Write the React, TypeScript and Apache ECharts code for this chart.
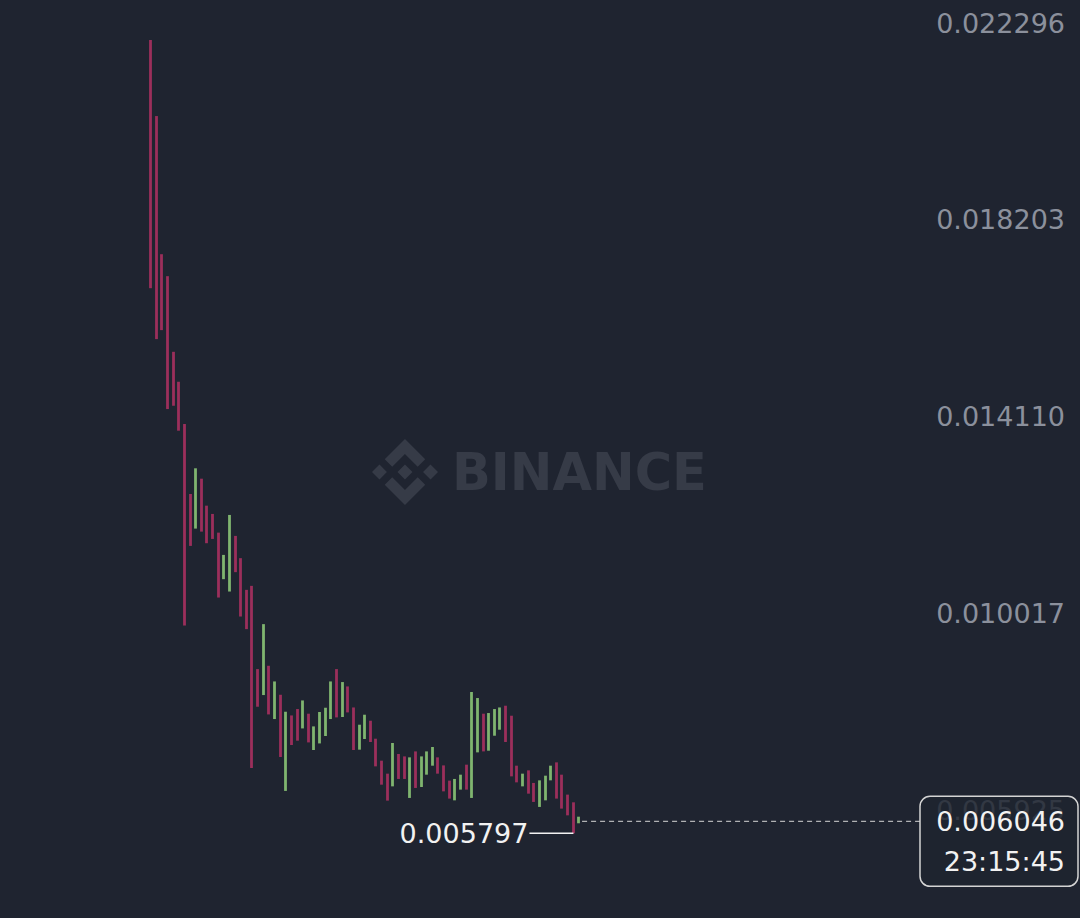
import React, { useEffect, useRef } from 'react';
import * as echarts from 'echarts';

// ---- data ----
const opens = [
  0.022296, 0.020714, 0.017841, 0.017384, 0.015811, 0.015188, 0.014309, 0.012854, 0.012134, 0.013172,
  0.012611, 0.012439, 0.012050, 0.011082, 0.010825, 0.011982, 0.011519, 0.010860, 0.010943, 0.009212,
  0.008672, 0.009281, 0.008173, 0.008678, 0.006678, 0.008248, 0.008381, 0.007978, 0.008284, 0.007529,
  0.007666, 0.007820, 0.008173, 0.009212, 0.008215, 0.008851, 0.008414, 0.007536, 0.007758, 0.008138,
  0.007764, 0.007307, 0.007037, 0.006773, 0.007446, 0.007396, 0.006532, 0.007500, 0.006760, 0.007016,
  0.007203, 0.007376, 0.007209, 0.006892, 0.006482, 0.006705, 0.007224, 0.006532, 0.007480, 0.008284,
  0.007515, 0.007826, 0.007951, 0.008450, 0.008242, 0.007203, 0.006773, 0.007106, 0.006844, 0.006345,
  0.006482, 0.006898, 0.007272, 0.007016, 0.006601, 0.006441, 0.006010,
];
const closes = [
  0.017134, 0.016075, 0.016262, 0.014620, 0.014689, 0.014170, 0.010118, 0.011774, 0.013388, 0.012071,
  0.011830, 0.011919, 0.010700, 0.011587, 0.012418, 0.011228, 0.010305, 0.010043, 0.007155, 0.008429,
  0.010147, 0.008269, 0.008955, 0.007384, 0.008325, 0.007633, 0.007723, 0.008560, 0.007687, 0.008020,
  0.008319, 0.008408, 0.008955, 0.008207, 0.008942, 0.008311, 0.007529, 0.008055, 0.008263, 0.007696,
  0.007189, 0.006808, 0.006476, 0.007675, 0.006927, 0.006927, 0.007376, 0.006740, 0.007396, 0.007500,
  0.007592, 0.007037, 0.006669, 0.006518, 0.006927, 0.007016, 0.006705, 0.008735, 0.008610, 0.007500,
  0.008298, 0.008381, 0.008414, 0.007696, 0.006981, 0.006856, 0.007037, 0.006621, 0.006449, 0.006898,
  0.006995, 0.007203, 0.006518, 0.006310, 0.006170, 0.005797, 0.006046,
];
const lows = [
  0.017134, 0.016075, 0.016262, 0.014620, 0.014689, 0.014170, 0.010118, 0.011774, 0.012134, 0.012071,
  0.011830, 0.011919, 0.010700, 0.011082, 0.010825, 0.011228, 0.010305, 0.010043, 0.007155, 0.008429,
  0.008672, 0.008269, 0.008173, 0.007384, 0.006678, 0.007633, 0.007723, 0.007978, 0.007687, 0.007529,
  0.007666, 0.007820, 0.008173, 0.008207, 0.008215, 0.008311, 0.007529, 0.007536, 0.007758, 0.007696,
  0.007189, 0.006808, 0.006476, 0.006773, 0.006927, 0.006927, 0.006532, 0.006740, 0.006760, 0.007016,
  0.007203, 0.007037, 0.006669, 0.006518, 0.006482, 0.006705, 0.006705, 0.006532, 0.007480, 0.007500,
  0.007515, 0.007826, 0.007951, 0.007696, 0.006981, 0.006856, 0.006773, 0.006621, 0.006449, 0.006345,
  0.006482, 0.006898, 0.006518, 0.006310, 0.006170, 0.005797, 0.006005,
];
const highs = [
  0.022296, 0.020714, 0.017841, 0.017384, 0.015811, 0.015188, 0.014309, 0.012854, 0.013388, 0.013172,
  0.012611, 0.012439, 0.012050, 0.011587, 0.012418, 0.011982, 0.011519, 0.010860, 0.010943, 0.009212,
  0.010147, 0.009281, 0.008955, 0.008678, 0.008325, 0.008248, 0.008381, 0.008560, 0.008284, 0.008020,
  0.008319, 0.008408, 0.008955, 0.009212, 0.008942, 0.008851, 0.008414, 0.008055, 0.008263, 0.008138,
  0.007764, 0.007307, 0.007037, 0.007675, 0.007446, 0.007396, 0.007376, 0.007500, 0.007396, 0.007500,
  0.007592, 0.007376, 0.007209, 0.006892, 0.006927, 0.007016, 0.007224, 0.008735, 0.008610, 0.008284,
  0.008298, 0.008381, 0.008414, 0.008450, 0.008242, 0.007203, 0.007037, 0.007106, 0.006844, 0.006898,
  0.006995, 0.007203, 0.007272, 0.007016, 0.006601, 0.006441, 0.006142,
];
const slotCount = 137; // visible time slots (incl. empty future space)
const priceTicks = [0.005925, 0.010017, 0.014110, 0.018203, 0.022296];
const lastPrice = 0.006046;
const countdown = '23:15:45';
const lowPrice = 0.005797;
const lowIndex = 75;

const BG = '#1f2430';
const UP = '#7fb56f';
const DOWN = '#9b2f5b';
const LABEL = '#8b909c';
const FONT = "'DejaVu Sans', sans-serif";

const LOGO_D =
  'M16.624 13.9202l2.7175 2.7154-7.353 7.353-7.353-7.352 2.7175-2.7164 4.6355 4.6595 4.6356-4.6595zm4.6366-4.6366L24 12l-2.7154 2.7164L18.5682 12l2.6924-2.7164zm-9.272.001l2.7163 2.6914-2.7164 2.7174v-.001L9.2721 12l2.7164-2.7154zm-9.2722-.001L5.4088 12l-2.6914 2.6924L0 12l2.7164-2.7164zM11.9885.0115l7.353 7.329-2.7174 2.7154-4.6356-4.6356-4.6355 4.6595-2.7174-2.7154 7.353-7.353z';

let registered = false;
function ensureLogo() {
  if (registered) return;
  echarts.graphic.registerShape('binanceLogo', echarts.graphic.extendPath(LOGO_D, {}) as any);
  registered = true;
}

export default function App() {
  const ref = useRef<HTMLDivElement>(null);
  useEffect(() => {
    if (!ref.current) return;
    ensureLogo();
    const chart = echarts.init(ref.current, null, { renderer: 'svg' });
    const slots = Array.from({ length: slotCount }, (_, i) => String(i));
    const candles = opens.map((o, i) => [o, closes[i], lows[i], highs[i]]);
    const gridRight = 160;
    chart.setOption({
      animation: false,
      backgroundColor: BG,
      grid: { left: 148, right: gridRight, top: 0, bottom: 0 },
      xAxis: {
        type: 'category',
        data: slots,
        boundaryGap: true,
        show: false,
      },
      yAxis: {
        type: 'value',
        position: 'right',
        min: 0.004035,
        max: 0.023128,
        axisLine: { show: false },
        axisTick: { show: false },
        splitLine: { show: false },
        axisLabel: {
          customValues: priceTicks,
          formatter: (v: number) => v.toFixed(6),
          color: LABEL,
          fontSize: 27,
          fontFamily: FONT,
          align: 'right',
          margin: 145,
          verticalAlign: 'bottom',
          lineHeight: 34,
        },
      },
      series: [
        {
          type: 'candlestick',
          data: candles,
          barWidth: 0.5,
          itemStyle: {
            color: UP,
            color0: DOWN,
            borderColor: UP,
            borderColor0: DOWN,
            borderWidth: 2.8,
          },
          z: 5,
        },
      ],
    });

    const W = 1080;
    const [px, py] = chart.convertToPixel({ seriesIndex: 0 }, [opens.length - 1, lastPrice]) as number[];
    const [lx, ly] = chart.convertToPixel({ seriesIndex: 0 }, [lowIndex, lowPrice]) as number[];
    const boxX = W - gridRight;
    chart.setOption({
      graphic: [
        {
          type: 'group',
          z: 0,
          silent: true,
          children: [
            {
              type: 'binanceLogo',
              x: 372,
              y: 439,
              scaleX: 2.75,
              scaleY: 2.75,
              style: { fill: '#363b47' },
            },
            {
              type: 'text',
              x: 452,
              y: 472,
              style: {
                text: 'BINANCE',
                fill: '#363b47',
                font: `bold 51px ${FONT}`,
                verticalAlign: 'middle',
                align: 'left',
              },
            },
          ],
        },
        {
          type: 'line',
          z: 20,
          shape: { x1: px + 3, y1: py, x2: boxX, y2: py },
          style: { stroke: '#d6d6d6', lineWidth: 1, lineDash: [5, 4] },
        },
        {
          type: 'rect',
          z: 20,
          shape: { x: boxX, y: py - 25, width: 158, height: 90, r: 10 },
          style: { fill: 'rgba(31,36,48,0.82)', stroke: '#d4d4d4', lineWidth: 1.5 },
        },
        {
          type: 'text',
          z: 21,
          x: 1065,
          y: py,
          style: {
            text: lastPrice.toFixed(6),
            fill: '#f2f2f2',
            font: `27px ${FONT}`,
            align: 'right',
            verticalAlign: 'middle',
          },
        },
        {
          type: 'text',
          z: 21,
          x: 1065,
          y: py + 40,
          style: {
            text: countdown,
            fill: '#f2f2f2',
            font: `27px ${FONT}`,
            align: 'right',
            verticalAlign: 'middle',
          },
        },
        {
          type: 'line',
          z: 20,
          shape: { x1: lx - 44, y1: ly, x2: lx, y2: ly },
          style: { stroke: '#f2f2f2', lineWidth: 1.5 },
        },
        {
          type: 'text',
          z: 21,
          x: lx - 45,
          y: ly,
          style: {
            text: lowPrice.toFixed(6),
            fill: '#f2f2f2',
            font: `27px ${FONT}`,
            align: 'right',
            verticalAlign: 'middle',
          },
        },
      ],
    });
    return () => chart.dispose();
  }, []);
  return (
    <div
      ref={ref}
      style={{ position: 'fixed', left: 0, top: 0, width: 1080, height: 918, background: BG }}
    />
  );
}
